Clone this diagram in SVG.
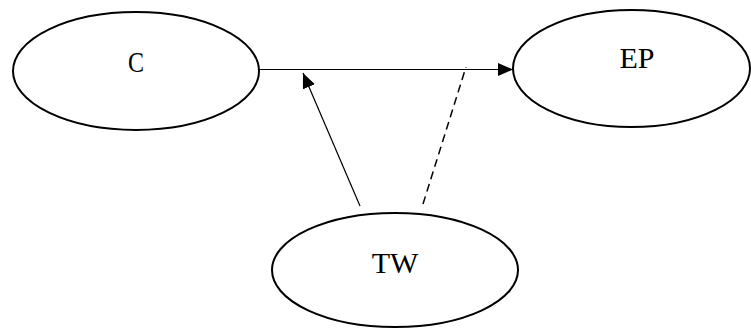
<svg xmlns="http://www.w3.org/2000/svg" width="751" height="328" viewBox="0 0 751 328">
<style>
.node{fill:#fff;stroke:#000;stroke-width:2}
.lbl{font-family:"Liberation Serif","DejaVu Serif",serif;font-size:30px;fill:#000;text-anchor:middle}
.edge{stroke:#000;stroke-width:1.2;fill:none}
.dash{stroke-dasharray:8 5;stroke-width:1.5}
</style>
<defs>
<marker id="ah" markerUnits="userSpaceOnUse" markerWidth="16" markerHeight="14" refX="15" refY="6.5" orient="auto">
<path d="M0,0 L15,6.5 L0,13 z" fill="#000"/>
</marker>
</defs>
<g id="C"><ellipse class="node" cx="136" cy="71" rx="123" ry="59"/><text class="lbl" x="136" y="72" textLength="16" lengthAdjust="spacingAndGlyphs">C</text></g>
<g id="EP"><ellipse class="node" cx="631.5" cy="68.5" rx="118.5" ry="58.5"/><text class="lbl" x="637" y="68">EP</text></g>
<g id="TW"><ellipse class="node" cx="395" cy="270" rx="123" ry="57"/><text class="lbl" x="395" y="273">TW</text></g>
<g id="connectors">
<line class="edge" x1="259" y1="69.5" x2="513" y2="69.5" marker-end="url(#ah)"/>
<line class="edge" x1="360" y1="206" x2="303" y2="73" marker-end="url(#ah)"/>
<line class="edge dash" x1="423" y1="204" x2="466" y2="67"/>
</g>
</svg>
